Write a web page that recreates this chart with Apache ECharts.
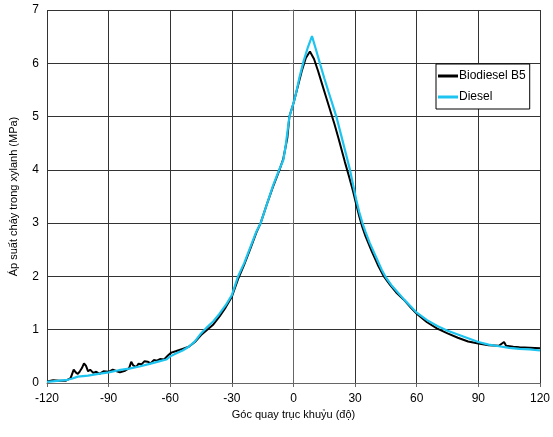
<!DOCTYPE html>
<html>
<head>
<meta charset="utf-8">
<script src="https://cdn.jsdelivr.net/npm/echarts@6/dist/echarts.min.js"></script>
<style>
  html, body { margin: 0; padding: 0; background: #fff; }
  #chart { width: 553px; height: 437px; }
</style>
</head>
<body>
<div id="chart"></div>
<script>
  // góc quay (độ) / áp suất (MPa)
  const angleB5 = [-120, -117, -114, -111, -108.5, -107, -106, -105, -104, -103, -102, -101, -100, -99, -97.5, -96, -94.5, -92.5, -90, -88, -86, -84.5, -82, -80, -79, -78, -76.5, -75.5, -74, -72.5, -71, -69.5, -68, -66.5, -65, -63, -61, -59.5, -57, -54, -51, -48, -45, -42, -39, -36, -33, -30, -27, -24, -21, -18, -16, -13, -10, -7, -5, -4, -3, -2, 0, 2, 4, 6, 8, 10, 12, 14, 16, 18, 20, 22, 25, 27, 29, 30.5, 32, 33.5, 35, 38, 41, 44, 47, 50, 54, 57, 60, 65, 70, 75, 80, 85, 90, 95, 100, 102.5, 103.5, 107, 110, 115, 120];
  const pressureB5 = [0.03, 0.05, 0.04, 0.04, 0.09, 0.25, 0.20, 0.17, 0.22, 0.28, 0.37, 0.32, 0.22, 0.25, 0.19, 0.21, 0.17, 0.22, 0.21, 0.25, 0.22, 0.20, 0.23, 0.28, 0.40, 0.33, 0.30, 0.36, 0.35, 0.41, 0.40, 0.37, 0.43, 0.42, 0.45, 0.44, 0.52, 0.57, 0.60, 0.64, 0.68, 0.77, 0.90, 1.00, 1.10, 1.25, 1.42, 1.62, 1.95, 2.22, 2.52, 2.83, 3.00, 3.35, 3.68, 3.98, 4.20, 4.40, 4.60, 5.00, 5.25, 5.55, 5.85, 6.10, 6.22, 6.08, 5.85, 5.60, 5.35, 5.10, 4.85, 4.58, 4.15, 3.88, 3.60, 3.36, 3.13, 2.93, 2.76, 2.48, 2.22, 2.00, 1.84, 1.70, 1.55, 1.42, 1.30, 1.14, 1.02, 0.93, 0.85, 0.78, 0.74, 0.71, 0.70, 0.77, 0.70, 0.68, 0.67, 0.66, 0.65];

  const angleDiesel = [-120, -115, -110, -108, -105, -100, -95, -90, -85, -80, -75, -70, -65, -62, -60, -57, -54, -51, -48, -45, -42, -39, -36, -33, -30, -27, -24, -21, -18, -16, -13, -10, -7, -5, -4, -3, -2, 0, 1, 3, 5, 7, 9, 11, 13, 15, 17, 19, 21, 23, 25, 27.5, 29, 30.5, 32, 33.5, 35, 37, 40, 43, 45, 48, 51, 54, 57, 60, 65, 70, 75, 80, 85, 90, 95, 100, 105, 110, 115, 120];
  const pressureDiesel = [0.02, 0.04, 0.06, 0.08, 0.12, 0.14, 0.17, 0.20, 0.24, 0.27, 0.31, 0.36, 0.41, 0.44, 0.50, 0.56, 0.61, 0.68, 0.78, 0.93, 1.05, 1.16, 1.30, 1.46, 1.65, 2.00, 2.25, 2.55, 2.85, 3.00, 3.35, 3.70, 4.00, 4.18, 4.40, 4.70, 5.00, 5.25, 5.40, 5.75, 6.05, 6.30, 6.51, 6.25, 5.98, 5.72, 5.47, 5.23, 4.98, 4.68, 4.38, 4.00, 3.72, 3.45, 3.21, 3.01, 2.84, 2.64, 2.38, 2.12, 1.98, 1.82, 1.69, 1.56, 1.44, 1.32, 1.18, 1.07, 0.98, 0.91, 0.84, 0.77, 0.72, 0.69, 0.66, 0.64, 0.63, 0.61];

  const pairs = (xs, ys) => xs.map((x, i) => [x, ys[i]]);

  const chart = echarts.init(document.getElementById('chart'));
  const font = 'Arial, "Liberation Sans", sans-serif';

  chart.setOption({
    animation: false,
    backgroundColor: '#fff',
    grid: { left: 43, right: 10, top: 10, bottom: 54 },
    legend: {
      orient: 'vertical',
      left: 436,
      top: 64,
      padding: [6, 4, 6, 2],
      itemGap: 9,
      icon: 'rect',
      itemWidth: 20,
      itemHeight: 3,
      borderColor: '#000',
      borderWidth: 1,
      backgroundColor: '#fff',
      textStyle: { fontFamily: font, fontSize: 12, color: '#000', padding: [0, 0, 0, -4] },
      data: ['Biodiesel B5', 'Diesel']
    },
    xAxis: {
      type: 'value',
      min: -120,
      max: 120,
      interval: 30,
      name: 'Góc quay trục khuỷu (độ)',
      nameLocation: 'middle',
      nameGap: 25,
      nameTextStyle: { fontFamily: font, fontSize: 11, color: '#000' },
      axisLine: { lineStyle: { color: '#666', width: 1 } },
      axisTick: { show: true, length: 4, lineStyle: { color: '#666' } },
      axisLabel: { fontFamily: font, fontSize: 12, color: '#000', margin: 10 },
      splitLine: { show: true, lineStyle: { color: '#333', width: 1 } }
    },
    yAxis: {
      type: 'value',
      min: 0,
      max: 7,
      interval: 1,
      name: 'Áp suất cháy trong xylanh (MPa)',
      nameLocation: 'middle',
      nameGap: 28,
      nameTextStyle: { fontFamily: font, fontSize: 11, color: '#000' },
      axisLine: { show: true, lineStyle: { color: '#666', width: 1 } },
      axisTick: { show: true, length: 4, lineStyle: { color: '#666' } },
      axisLabel: { fontFamily: font, fontSize: 12, color: '#000', margin: 8 },
      splitLine: { show: true, lineStyle: { color: '#333', width: 1 } }
    },
    series: [
      {
        name: 'Biodiesel B5',
        type: 'line',
        data: pairs(angleB5, pressureB5),
        symbol: 'none',
        lineStyle: { color: '#000', width: 2 },
        itemStyle: { color: '#000' }
      },
      {
        name: 'Diesel',
        type: 'line',
        data: pairs(angleDiesel, pressureDiesel),
        symbol: 'none',
        lineStyle: { color: '#1cc4ef', width: 2.2 },
        itemStyle: { color: '#1cc4ef' }
      }
    ]
  });
</script>
</body>
</html>
